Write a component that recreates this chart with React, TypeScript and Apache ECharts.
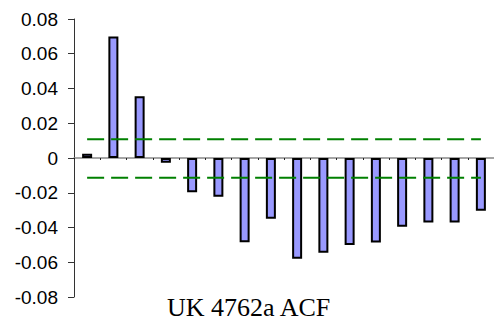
import React, { useEffect, useRef } from "react";
import * as echarts from "echarts";

const lags = ["1","2","3","4","5","6","7","8","9","10","11","12","13","14","15","16"];
const acf = [0.0024, 0.0700, 0.0356, -0.0028, -0.0197, -0.0223, -0.0485, -0.0350, -0.0580, -0.0546, -0.0500, -0.0486, -0.0396, -0.0371, -0.0371, -0.0304];
const upperBound = 0.0108;
const lowerBound = -0.0114;
const titleText = "UK 4762a ACF";

export default function App() {
  const ref = useRef<HTMLDivElement>(null);
  useEffect(() => {
    if (!ref.current) return;
    const chart = echarts.init(ref.current, undefined, { renderer: "svg" });
    chart.setOption({
      animation: false,
      title: {
        text: titleText,
        left: 162,
        top: 289,
        textStyle: { fontFamily: "Liberation Serif", fontSize: 26, fontWeight: "normal", color: "#000" },
      },
      grid: { left: 74, right: 0, top: 19, bottom: 25, containLabel: false },
      xAxis: {
        type: "category",
        data: lags,
        axisLine: { onZero: true, lineStyle: { color: "#888", width: 1.5 } },
        axisTick: { show: true, inside: false, length: 2, lineStyle: { color: "#222", width: 1 } },
        axisLabel: { show: false },
        splitLine: { show: false },
      },
      yAxis: {
        type: "value",
        min: -0.08,
        max: 0.08,
        interval: 0.02,
        axisLine: { show: true, lineStyle: { color: "#333", width: 1 } },
        axisTick: { show: true, length: 6, lineStyle: { color: "#333" } },
        splitLine: { show: false },
        axisLabel: {
          margin: 16,
          fontFamily: "Liberation Sans",
          fontSize: 19,
          color: "#000",
          formatter: (v: number) => (Math.abs(v) < 1e-9 ? "0" : v.toFixed(2)),
        },
      },
      series: [
        {
          type: "bar",
          data: acf,
          barWidth: 10,
          itemStyle: { color: "#9999FF", borderColor: "#000", borderWidth: 2 },
        },
        {
          type: "line",
          data: lags.map(() => upperBound),
          symbol: "none",
          lineStyle: { color: "#008000", width: 2, type: [17, 7] },
        },
        {
          type: "line",
          data: lags.map(() => lowerBound),
          symbol: "none",
          lineStyle: { color: "#008000", width: 2, type: [17, 7] },
        },
      ],
    });
    return () => chart.dispose();
  }, []);
  return <div ref={ref} style={{ width: 494, height: 322, position: "absolute", left: 0, top: 0 }} />;
}
